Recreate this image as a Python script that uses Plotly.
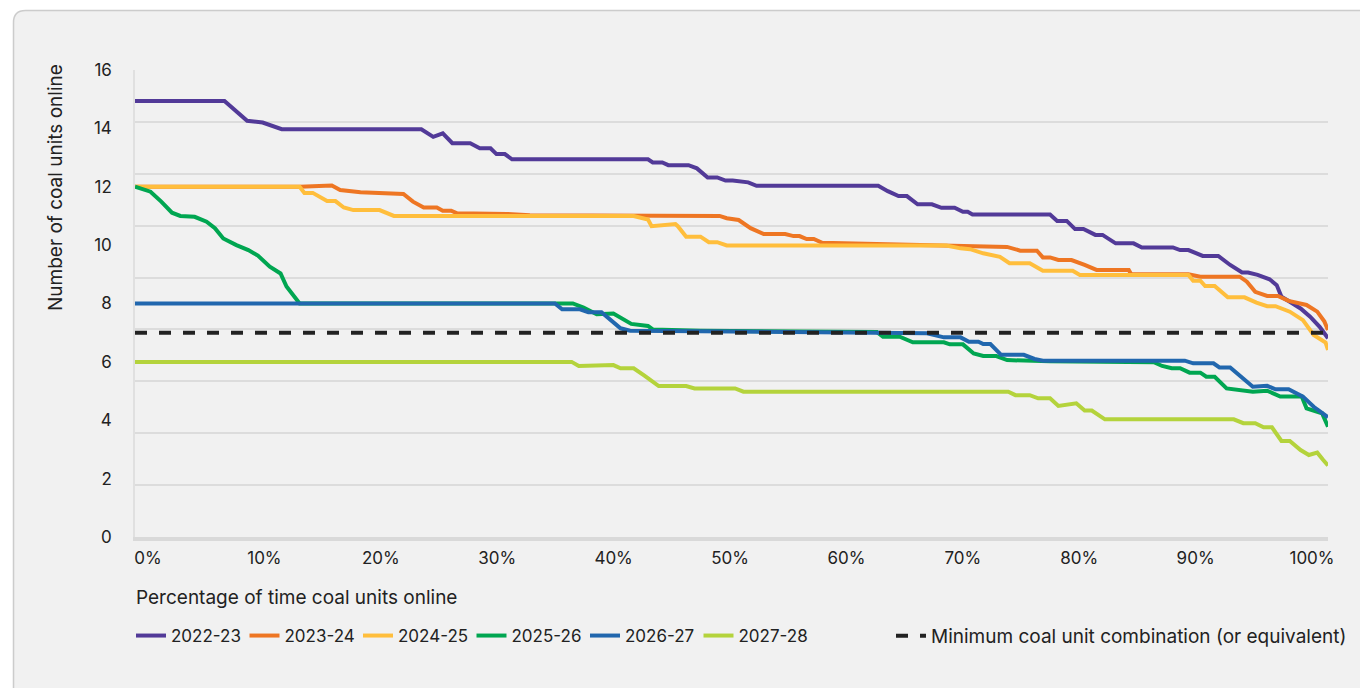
import plotly.graph_objects as go

# ---------------- data (percentage of time, number of coal units online) ----------------
x_2022 = [0, 7.5, 9.4, 10.7, 12.3, 24.0, 25.0, 25.8, 26.6, 28.1, 28.9, 29.8, 30.3, 31.0, 31.6,
          43.0, 43.4, 44.2, 44.7, 46.4, 47.1, 48.0, 48.8, 49.5, 50.1, 51.4, 52.1, 62.3, 63.1,
          64.0, 64.7, 65.6, 66.8, 67.6, 68.7, 69.4, 69.8, 70.2, 76.7, 77.3, 78.1, 78.8, 79.5,
          80.5, 81.1, 82.2, 83.7, 84.4, 87.0, 87.6, 88.3, 89.5, 90.8, 91.8, 92.8, 93.3, 94.1,
          95.1, 95.7, 96.1, 96.8, 97.7, 98.5, 99.3, 100]
y_2022 = [14.94, 14.94, 14.26, 14.2, 13.97, 13.97, 13.71, 13.83, 13.49, 13.49, 13.32, 13.32,
          13.12, 13.12, 12.94, 12.94, 12.83, 12.83, 12.74, 12.74, 12.63, 12.32, 12.32, 12.21,
          12.21, 12.15, 12.03, 12.03, 11.85, 11.68, 11.68, 11.40, 11.40, 11.28, 11.28, 11.14,
          11.14, 11.05, 11.05, 10.83, 10.83, 10.55, 10.55, 10.35, 10.35, 10.06, 10.06, 9.92,
          9.92, 9.83, 9.83, 9.63, 9.63, 9.32, 9.06, 9.06, 8.98, 8.83, 8.63, 8.23, 8.06, 7.83,
          7.55, 7.2, 6.81]

x_2023 = [0, 13.8, 16.5, 17.2, 18.9, 22.5, 23.3, 24.2, 25.3, 25.8, 26.5, 27.0, 31.2, 33.1,
          49.0, 49.6, 50.6, 51.6, 52.7, 54.5, 55.2, 55.7, 56.3, 56.9, 57.6, 67.5, 73.1, 74.2,
          75.6, 76.1, 76.7, 77.4, 78.5, 79.6, 80.6, 83.3, 83.5, 88.3, 89.3, 92.6, 93.2, 93.9,
          94.9, 95.8, 96.7, 98.2, 99.1, 99.7, 100]
y_2023 = [12.0, 12.0, 12.04, 11.89, 11.81, 11.75, 11.49, 11.29, 11.29, 11.18, 11.18, 11.09,
          11.07, 11.02, 11.0, 10.92, 10.86, 10.58, 10.38, 10.38, 10.31, 10.31, 10.21, 10.21,
          10.08, 10.0, 9.94, 9.81, 9.81, 9.58, 9.58, 9.49, 9.49, 9.32, 9.15, 9.15, 9.0, 9.0,
          8.92, 8.92, 8.75, 8.4, 8.26, 8.26, 8.09, 7.95, 7.72, 7.38, 7.09]

x_2024 = [0, 13.8, 14.2, 14.9, 16.1, 16.8, 17.5, 18.3, 20.5, 21.7, 41.8, 43.0, 43.3, 45.3,
          45.5, 46.2, 47.4, 48.1, 48.8, 49.6, 68.0, 69.2, 70.0, 71.1, 72.5, 73.3, 75.0, 76.1,
          78.6, 79.2, 88.3, 88.7, 89.3, 89.7, 90.5, 91.6, 93.0, 94.0, 94.9, 95.6, 96.8, 97.9,
          98.8, 99.5, 99.8, 100]
y_2024 = [12.0, 12.0, 11.79, 11.79, 11.51, 11.51, 11.29, 11.2, 11.2, 11.0, 11.0, 10.88, 10.65,
          10.72, 10.65, 10.29, 10.29, 10.1, 10.1, 9.99, 9.99, 9.89, 9.86, 9.72, 9.6, 9.38,
          9.38, 9.12, 9.12, 8.98, 8.98, 8.78, 8.78, 8.6, 8.6, 8.21, 8.21, 8.03, 7.91, 7.91,
          7.72, 7.43, 6.92, 6.75, 6.66, 6.41]

x_2025 = [0, 1.3, 2.2, 3.1, 3.8, 5.0, 6.0, 6.7, 7.4, 8.5, 9.5, 10.3, 11.3, 12.2, 12.7, 13.6,
          13.8, 36.7, 37.6, 38.7, 40.1, 41.6, 43.0, 43.4, 47.4, 55.7, 62.2, 62.7, 64.1, 65.2,
          67.8, 68.3, 69.4, 70.3, 71.1, 72.2, 73.1, 76.7, 85.4, 86.1, 86.9, 87.6, 88.4, 89.3,
          89.8, 90.5, 91.5, 93.7, 94.9, 96.0, 97.8, 98.2, 99.5, 100]
y_2025 = [12.0, 11.83, 11.49, 11.11, 11.0, 10.97, 10.8, 10.58, 10.23, 10.0, 9.83, 9.64, 9.26,
          9.03, 8.58, 8.1, 8.0, 8.0, 7.86, 7.63, 7.66, 7.3, 7.23, 7.11, 7.07, 7.04, 7.02, 6.86,
          6.86, 6.67, 6.67, 6.6, 6.6, 6.29, 6.2, 6.2, 6.06, 6.02, 5.99, 5.86, 5.78, 5.78, 5.63,
          5.63, 5.49, 5.49, 5.09, 4.98, 5.01, 4.81, 4.81, 4.41, 4.24, 3.78]

x_2026 = [0, 35.2, 35.8, 37.3, 38.0, 39.1, 40.7, 41.5, 47.4, 55.7, 62.2, 66.4, 67.8, 69.2,
          69.9, 70.7, 71.1, 71.7, 72.6, 74.5, 75.4, 76.1, 88.0, 88.7, 90.4, 90.9, 91.8, 93.7,
          94.9, 95.6, 96.7, 97.9, 98.8, 99.6, 100]
y_2026 = [8.0, 8.0, 7.8, 7.8, 7.7, 7.7, 7.15, 7.07, 7.05, 7.03, 7.0, 6.98, 6.84, 6.84, 6.69,
          6.69, 6.61, 6.61, 6.24, 6.24, 6.1, 6.04, 6.04, 5.95, 5.95, 5.81, 5.81, 5.15, 5.18,
          5.06, 5.06, 4.81, 4.46, 4.24, 4.1]

x_2027 = [0, 36.6, 37.2, 40.1, 40.7, 41.8, 42.7, 43.9, 46.2, 46.9, 50.3, 51.0, 73.2, 73.8,
          75.0, 75.7, 76.7, 77.4, 78.9, 79.6, 80.2, 81.3, 92.1, 92.9, 93.9, 94.6, 95.3, 96.1,
          96.8, 97.7, 98.4, 99.1, 99.6, 100]
y_2027 = [6.0, 6.0, 5.86, 5.89, 5.78, 5.78, 5.53, 5.17, 5.17, 5.09, 5.09, 4.98, 4.98, 4.86,
          4.86, 4.75, 4.75, 4.49, 4.58, 4.33, 4.33, 4.03, 4.03, 3.9, 3.9, 3.76, 3.76, 3.29,
          3.29, 2.98, 2.81, 2.89, 2.64, 2.45]

x_min = [0, 100]
y_min = [7, 7]

series_names = ["2022-23", "2023-24", "2024-25", "2025-26", "2026-27", "2027-28"]
min_name = "Minimum coal unit combination (or equivalent)"
y_ticks = [0, 2, 4, 6, 8, 10, 12, 14, 16]
x_ticks = [0, 10, 20, 30, 40, 50, 60, 70, 80, 90, 100]
x_tick_text = [f"{v}%" for v in x_ticks]

# ---------------- style ----------------
colors = ["#523A98", "#EE7623", "#FFBE3C", "#00A651", "#2167AE", "#B4D33C"]
FONT = "Inter, Roboto, sans-serif"
TXT = "#222222"
W, H = 1368, 688
OFF = 8  # page body margin
# plot area in screenshot pixels
SX0, SX1, SY0, SY1 = 135, 1328, 70, 537
L, T = SX0 - OFF, SY0 - OFF
R, B = W - (SX1 - OFF), H - (SY1 - OFF)
PW, PH = SX1 - SX0, SY1 - SY0


def px_x(p):
    return (p - SX0) / PW


def px_y(p):
    return (SY1 - p) / PH


fig = go.Figure()
xs = [x_2022, x_2023, x_2024, x_2025, x_2026, x_2027]
ys = [y_2022, y_2023, y_2024, y_2025, y_2026, y_2027]
for name, xv, yv, c in zip(series_names, xs, ys, colors):
    fig.add_trace(go.Scatter(x=xv, y=yv, name=name, mode="lines",
                             line=dict(color=c, width=4), legend="legend",
                             hoverinfo="skip"))
fig.add_trace(go.Scatter(x=x_min, y=y_min, name=min_name, mode="lines",
                         line=dict(color="#222222", width=4, dash="dash"),
                         legend="legend2", hoverinfo="skip"))
# empty helper trace so the label / grid overlay axes get drawn
fig.add_trace(go.Scatter(x=[None], y=[None], xaxis="x2", yaxis="y2",
                         showlegend=False, hoverinfo="skip"))

# card background
x0, x1 = px_x(13.5), px_x(W + 30)
yt, yb = px_y(10.5), px_y(H + 30)
rx, ry = 12 / PW, 12 / PH
card = (f"M {x0},{yb} L {x0},{yt - ry} Q {x0},{yt} {x0 + rx},{yt} "
        f"L {x1},{yt} L {x1},{yb} Z")

grid_vals = [i * 16 / 9 for i in range(10)]

fig.update_layout(
    width=W, height=H,
    margin=dict(l=L, r=R, t=T, b=B),
    paper_bgcolor="white",
    plot_bgcolor="rgba(0,0,0,0)",
    font=dict(family=FONT, color=TXT, size=17),
    shapes=[dict(type="path", path=card, xref="paper", yref="paper",
                 fillcolor="#F1F1F1", line=dict(color="#CCCCCC", width=1.5),
                 layer="below")],
    xaxis=dict(range=[0, 100], showgrid=False, zeroline=False, showticklabels=False,
               showline=True, linecolor="#D9D9D9", linewidth=3.5, ticks=""),
    xaxis2=dict(overlaying="x", anchor="y", side="bottom",
                range=[(SX0 - 148) / 11.64, (SX1 - 148) / 11.64],
                tickmode="array", tickvals=x_ticks, ticktext=x_tick_text,
                showgrid=False, zeroline=False, showline=False, ticks="",
                ticklabelstandoff=9, tickfont=dict(size=17, color=TXT)),
    yaxis=dict(range=[0, 16], tickmode="array", tickvals=y_ticks,
               showgrid=False, zeroline=False, showline=True, linecolor="#E0E0E0",
               linewidth=1.5, ticks="", ticklabelstandoff=18,
               tickfont=dict(size=17, color=TXT)),
    yaxis2=dict(overlaying="y", anchor="x", range=[0, 16], tickmode="array",
                tickvals=grid_vals, showticklabels=False, showgrid=True,
                gridcolor="#DCDCDC", gridwidth=1.5, zeroline=False, showline=False,
                ticks=""),
    legend=dict(orientation="h", x=px_x(131), xanchor="left", y=px_y(636),
                yanchor="middle", bgcolor="rgba(0,0,0,0)", entrywidth=68.5,
                entrywidthmode="pixels", font=dict(size=17, color=TXT),
                itemwidth=30, tracegroupgap=0),
    legend2=dict(orientation="h", x=px_x(891), xanchor="left", y=px_y(636),
                 yanchor="middle", bgcolor="rgba(0,0,0,0)",
                 font=dict(size=19, color=TXT), itemwidth=30),
    annotations=[
        dict(text="Number of coal units online", textangle=-90, xref="paper",
             yref="paper", x=px_x(55), y=px_y(188), xanchor="center",
             yanchor="middle", showarrow=False, font=dict(size=19, color=TXT)),
        dict(text="Percentage of time coal units online", xref="paper", yref="paper",
             x=px_x(134), y=px_y(597), xanchor="left", yanchor="middle",
             showarrow=False, font=dict(size=19, color=TXT)),
    ],
    showlegend=True,
)

fig.write_html("out.html")
